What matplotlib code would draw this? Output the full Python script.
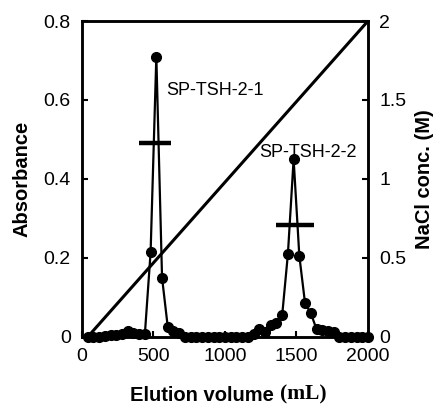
import numpy as np
import matplotlib
matplotlib.use("Agg")
import matplotlib.pyplot as plt

plt.rcParams['font.family'] = ['Liberation Sans', 'DejaVu Sans']

# fractions (mL) and absorbance
volume = [40, 80, 120, 160, 200, 240, 280, 320, 360, 400,
          440, 480, 520, 560, 600, 640, 680, 720, 760, 800,
          840, 880, 920, 960, 1000, 1040, 1080, 1120, 1160, 1200,
          1240, 1280, 1320, 1360, 1400, 1440, 1480, 1520, 1560, 1600,
          1640, 1680, 1720, 1760, 1800, 1840, 1880, 1920, 1960, 2000]
absorbance = [0.0, 0.0, 0.0, 0.002, 0.004, 0.006, 0.008, 0.015, 0.01, 0.007,
              0.008, 0.215, 0.71, 0.15, 0.025, 0.015, 0.01, 0.0, 0.0, 0.0,
              0.0, 0.0, 0.0, 0.0, 0.0, 0.0, 0.0, 0.0, 0.0, 0.008,
              0.02, 0.012, 0.03, 0.035, 0.055, 0.21, 0.45, 0.205, 0.085, 0.06,
              0.02, 0.018, 0.015, 0.012, 0.0, 0.0, 0.0, 0.0, 0.0, 0.0]

# NaCl gradient
nacl_volume = [40, 2000]
nacl_conc = [0.0, 2.0]

# pooled fractions
pools = [(400, 620, 0.49), (1355, 1622, 0.283)]
peak_labels = [("SP-TSH-2-1", 590, 0.625), ("SP-TSH-2-2", 1240, 0.466)]

fig = plt.figure(figsize=(4.36, 4.04), dpi=100)
ax = fig.add_axes([0.188, 0.166, 0.656, 0.782])

ax.plot(volume, absorbance, color='black', lw=1.6, marker='o', ms=7, zorder=3, clip_on=False)
for x0, x1, y in pools:
    ax.hlines(y, x0, x1, color='black', lw=3.2, zorder=4)
for txt, x, y in peak_labels:
    ax.text(x, y, txt, fontsize=13, va='center', ha='left')

ax.set_xlim(0, 2000)
ax.set_ylim(0, 0.8)
ax.set_xticks([0, 500, 1000, 1500, 2000])
ax.set_yticks([0, 0.2, 0.4, 0.6, 0.8])
ax.set_yticklabels(['0', '0.2', '0.4', '0.6', '0.8'])
ax.tick_params(direction='in', length=4, width=1.5, labelsize=14, pad=8)
ax.set_ylabel('Absorbance', fontsize=14.5, fontweight='bold', labelpad=9)
for s in ax.spines.values():
    s.set_linewidth(1.8)

ax2 = ax.twinx()
ax2.plot(nacl_volume, nacl_conc, color='black', lw=2.2)
ax2.set_ylim(0, 2)
ax2.set_yticks([0, 0.5, 1, 1.5, 2])
ax2.set_yticklabels(['0', '0.5', '1', '1.5', '2'])
ax2.tick_params(direction='in', length=4, width=1.5, labelsize=14, pad=8)
ax2.set_ylabel('NaCl conc. (M)', fontsize=14.5, fontweight='bold', labelpad=6)
for s in ax2.spines.values():
    s.set_linewidth(1.8)

# x label: sans part + serif units
ax.text(0.692, -0.155, 'Elution volume ', transform=ax.transAxes, ha='right', va='top',
        fontsize=14.5, fontweight='bold')
ax.text(0.692, -0.15, '(mL)', transform=ax.transAxes, ha='left', va='top',
        fontsize=15.5, fontweight='bold', family='Liberation Serif')

fig.savefig('out.png', dpi=100)
